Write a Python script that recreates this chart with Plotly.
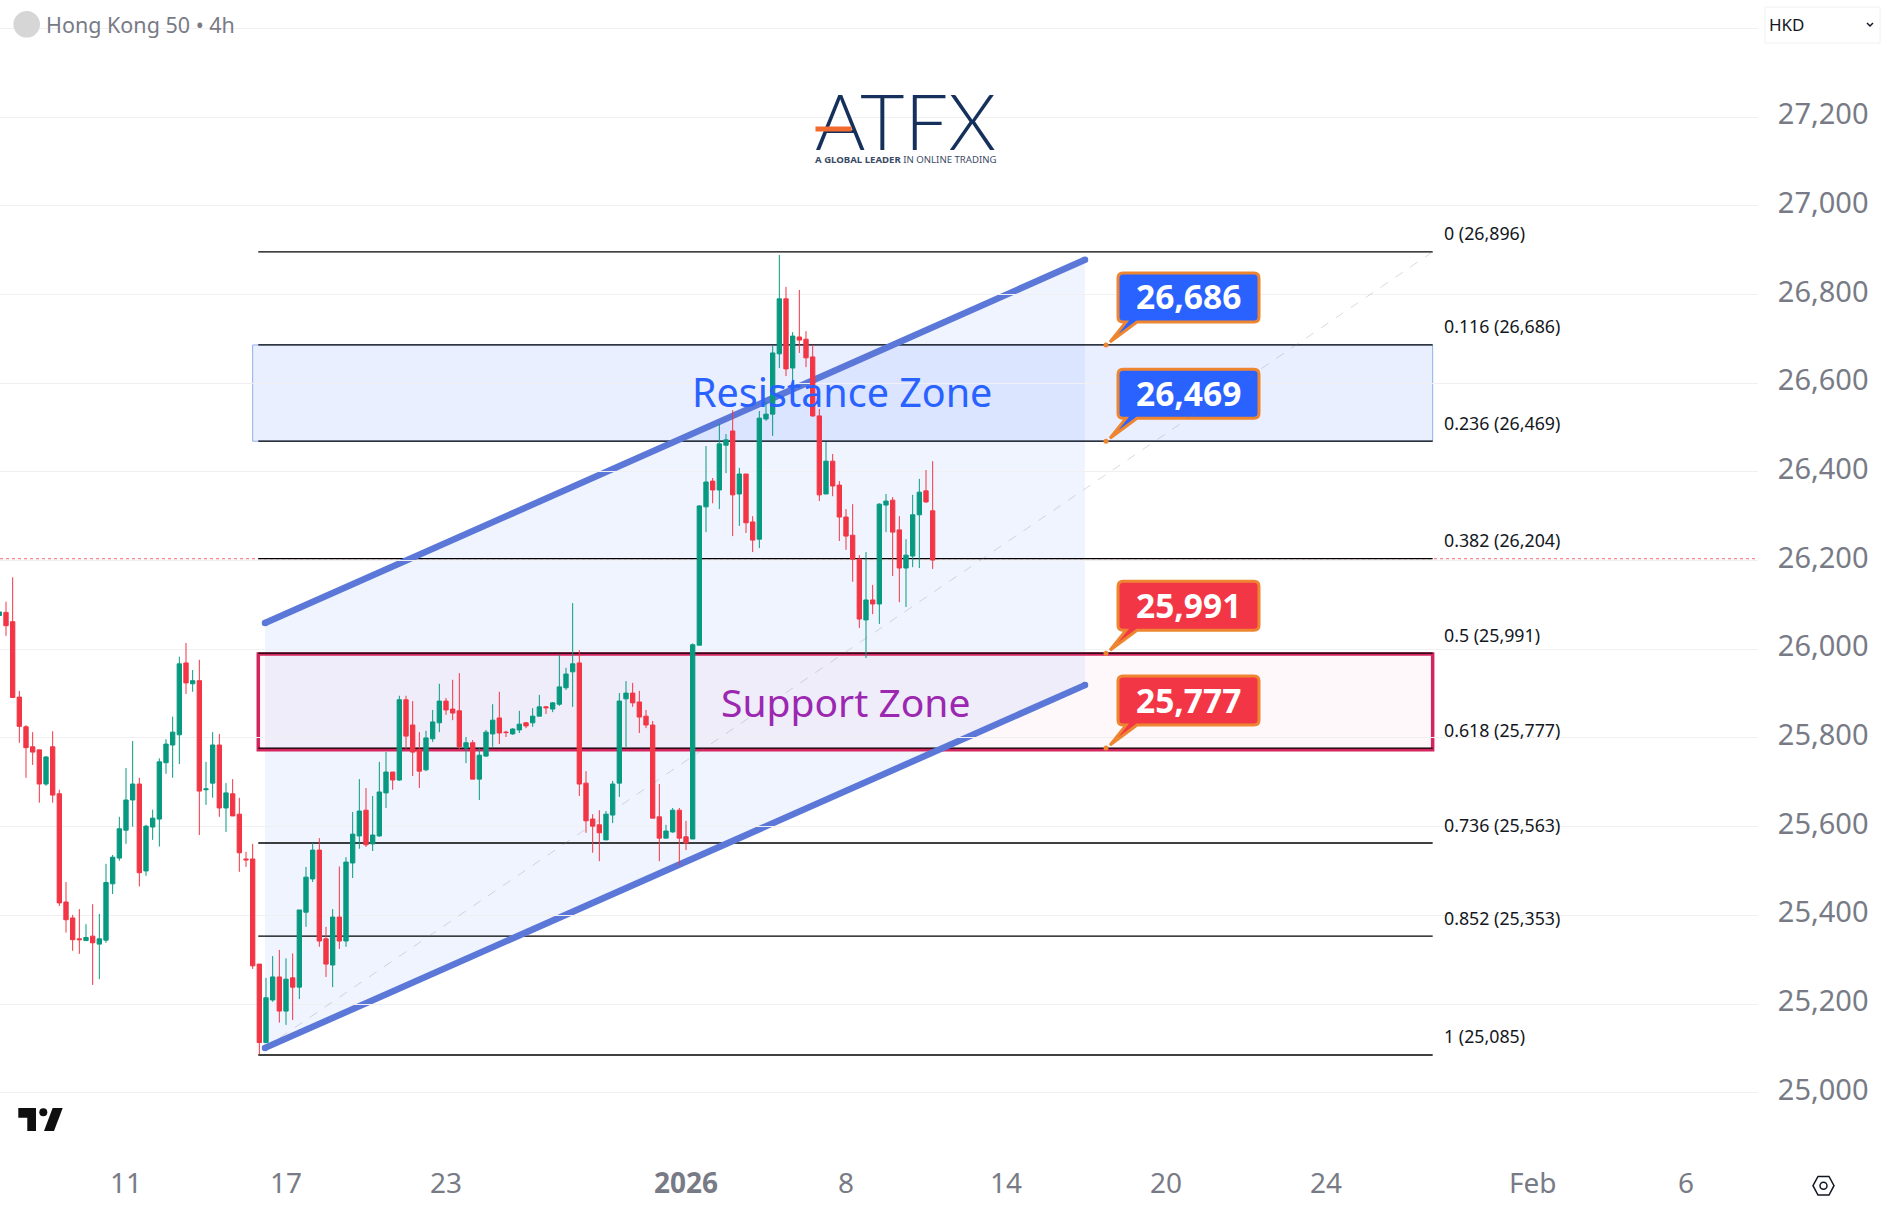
# Hong Kong 50 4h chart with fib levels, channel and zones

import plotly.graph_objects as go

# bar index, one bar every 4h, weekends skipped
bars = list(range(-1, 140))

opens = [26076, 26083, 26062, 25892, 25825, 25780, 25773, 25696, 25780, 25674, 25430, 25394, 25347, 25343, 25353, 25335,
         25344, 25471, 25529, 25592, 25660, 25696, 25500, 25599, 25617, 25744, 25784, 25807, 25969, 25922, 25929, 25683,
         25698, 25784, 25642, 25674, 25628, 25527, 25527, 25290, 25113, 25209, 25261, 25184, 25259, 25238, 25407, 25482,
         25547, 25347, 25288, 25396, 25342, 25518, 25579, 25637, 25561, 25579, 25676, 25723, 25705, 25886, 25829, 25773,
         25728, 25798, 25834, 25883, 25865, 25861, 25777, 25789, 25707, 25759, 25809, 25845, 25813, 25809, 25818, 25834,
         25834, 25849, 25870, 25865, 25876, 25913, 25949, 25969, 25698, 25617, 25604, 25570, 25626, 25698, 25888, 25901,
         25881, 25849, 25829, 25622, 25574, 25588, 25637, 25577, 25572, 26009, 26321, 26379, 26359, 26460, 26492, 26350,
         26395, 26287, 26248, 26519, 26530, 26666, 26790, 26634, 26704, 26699, 26659, 26526, 26350, 26424, 26370, 26298,
         26257, 26203, 26066, 26111, 26102, 26325, 26336, 26269, 26183, 26210, 26303, 26357, 26312]
highs = [26086, 26107, 26162, 25906, 25829, 25813, 25773, 25759, 25815, 25683, 25475, 25401, 25414, 25380, 25425, 25403,
         25516, 25536, 25622, 25732, 25793, 25710, 25604, 25638, 25754, 25797, 25848, 25983, 26014, 25953, 25976, 25746,
         25813, 25809, 25698, 25707, 25665, 25543, 25561, 25290, 25259, 25308, 25322, 25303, 25314, 25412, 25509, 25563,
         25574, 25374, 25414, 25510, 25531, 25633, 25707, 25687, 25669, 25746, 25768, 25723, 25895, 25895, 25883, 25813,
         25816, 25863, 25922, 25890, 25931, 25946, 25802, 25795, 25779, 25818, 25876, 25904, 25816, 25822, 25861, 25836,
         25867, 25897, 25872, 25881, 25987, 25958, 26104, 25998, 25725, 25628, 25637, 25635, 25703, 25901, 25928, 25924,
         25906, 25863, 25838, 25696, 25604, 25642, 25642, 25613, 26013, 26325, 26458, 26386, 26508, 26485, 26539, 26409,
         26395, 26300, 26537, 26557, 26684, 26889, 26817, 26715, 26810, 26717, 26686, 26542, 26467, 26440, 26379, 26316,
         26327, 26212, 26219, 26145, 26329, 26350, 26343, 26300, 26248, 26348, 26384, 26404, 26424]
lows = [26074, 26030, 25891, 25789, 25710, 25739, 25654, 25692, 25654, 25421, 25361, 25320, 25313, 25343, 25243, 25256,
        25338, 25448, 25523, 25561, 25600, 25465, 25489, 25570, 25555, 25719, 25710, 25741, 25899, 25904, 25581, 25649,
        25665, 25622, 25588, 25624, 25498, 25509, 25279, 25086, 25113, 25205, 25158, 25153, 25164, 25211, 25374, 25475,
        25329, 25261, 25238, 25324, 25329, 25484, 25550, 25554, 25545, 25577, 25642, 25683, 25703, 25775, 25714, 25687,
        25725, 25791, 25813, 25852, 25840, 25775, 25743, 25707, 25660, 25757, 25780, 25786, 25802, 25807, 25811, 25822,
        25825, 25849, 25854, 25858, 25872, 25908, 25870, 25669, 25586, 25541, 25522, 25570, 25608, 25667, 25779, 25870,
        25811, 25822, 25619, 25522, 25574, 25586, 25513, 25547, 25572, 26009, 26264, 26329, 26316, 26397, 26255, 26278,
        26262, 26219, 26228, 26515, 26481, 26634, 26616, 26605, 26668, 26636, 26524, 26334, 26350, 26345, 26244, 26224,
        26152, 26048, 25980, 26079, 26057, 26264, 26165, 26106, 26095, 26185, 26183, 26330, 26181]
closes = [26084, 26053, 25891, 25826, 25778, 25768, 25696, 25757, 25671, 25428, 25390, 25345, 25345, 25350, 25338, 25347,
          25474, 25531, 25595, 25660, 25696, 25496, 25601, 25619, 25746, 25786, 25813, 25967, 25924, 25929, 25680, 25685,
          25784, 25642, 25676, 25624, 25541, 25525, 25286, 25113, 25214, 25261, 25184, 25256, 25238, 25412, 25486, 25547,
          25342, 25290, 25396, 25342, 25520, 25583, 25635, 25559, 25581, 25678, 25723, 25705, 25886, 25804, 25768, 25725,
          25800, 25836, 25883, 25863, 25856, 25780, 25789, 25707, 25761, 25813, 25840, 25811, 25812, 25820, 25831, 25827,
          25849, 25870, 25868, 25879, 25915, 25944, 25967, 25696, 25613, 25601, 25586, 25628, 25696, 25883, 25901, 25879,
          25847, 25829, 25619, 25574, 25590, 25637, 25574, 25563, 26010, 26323, 26377, 26359, 26463, 26472, 26348, 26395,
          26285, 26246, 26521, 26530, 26668, 26790, 26632, 26706, 26697, 26657, 26526, 26348, 26424, 26368, 26298, 26255,
          26203, 26068, 26111, 26102, 26327, 26334, 26264, 26183, 26212, 26303, 26354, 26332, 26201]

# axis ticks
x_tick_bars = [18, 42, 66, 102, 126, 150, 174, 198, 229, 252]
x_tick_labels = ["11", "17", "23", "<b>2026</b>", "8", "14", "20", "24", "Feb", "6"]
y_ticks = [25000, 25200, 25400, 25600, 25800, 26000, 26200, 26400, 26600, 26800, 27000, 27200, 27400]
y_tick_labels = ["25,000", "25,200", "25,400", "25,600", "25,800", "26,000", "26,200", "26,400", "26,600", "26,800",
                 "27,000", "27,200", ""]

# fib levels
fib_ratios = ["0", "0.116", "0.236", "0.382", "0.5", "0.618", "0.736", "0.852", "1"]
fib_prices = [26896, 26686, 26469, 26204, 25991, 25777, 25563, 25353, 25085]
fib_left, fib_right = 37.84, 214.0

# channel drawn on the chart
channel_x = [38.85, 161.85]
channel_upper = [26059, 26878]
channel_lower = [25101, 25919]
fib_trend_x = [38.85, 214.0]
fib_trend_y = [25101, 26896]

last_price = 26204
resistance_zone = [26469, 26686]
support_zone = [25773, 25989]
callout_prices = [26686, 26469, 25991, 25777]
callout_colors = ["#2962FF", "#2962FF", "#F23645", "#F23645"]

# plot area in page pixels
PW, PH = 1758, 1148
Y_TOP, Y_BOT = 27463.8, 24875.3
X_LEFT, X_RIGHT = -0.9, 262.8
GREEN, RED = "#089981", "#F23645"
GREY = "#787B86"
FONT = "Noto Sans"
ORANGE = "#EE8530"
CHANNEL = "#5B78D8"


def px(x):
    return x / PW


def py(y):
    return 1 - y / PH


def price_y(p):
    return (Y_TOP - p) / (Y_TOP - Y_BOT) * PH


def bar_x(i):
    return (i - X_LEFT) / (X_RIGHT - X_LEFT) * PW


def label(text, x, y, size, color, anchor="left", family=FONT, weight="normal", **kw):
    return dict(text=text, x=px(x), y=py(y), xref="paper", yref="paper", showarrow=False, xanchor=anchor,
                yanchor="middle", font=dict(family=family, size=size, color=color, weight=weight), **kw)


def callout_path(y):
    x0, x1, top, bot, r = 1118, 1259, y - 72, y - 23, 5
    pts = f"M{px(x0 + r)},{py(top)} L{px(x1 - r)},{py(top)} Q{px(x1)},{py(top)} {px(x1)},{py(top + r)} "
    pts += f"L{px(x1)},{py(bot - r)} Q{px(x1)},{py(bot)} {px(x1 - r)},{py(bot)} "
    pts += f"L{px(1137)},{py(bot)} L{px(1110)},{py(y - 3)} L{px(1126)},{py(bot)} "
    pts += f"L{px(x0 + r)},{py(bot)} Q{px(x0)},{py(bot)} {px(x0)},{py(bot - r)} "
    pts += f"L{px(x0)},{py(top + r)} Q{px(x0)},{py(top)} {px(x0 + r)},{py(top)} Z"
    return pts


fig = go.Figure(go.Candlestick(
    x=bars, open=opens, high=highs, low=lows, close=closes,
    increasing=dict(line=dict(color=GREEN, width=1), fillcolor=GREEN),
    decreasing=dict(line=dict(color=RED, width=1), fillcolor=RED),
    whiskerwidth=0, hoverinfo="skip",
))

shapes = []
# channel fill
shapes.append(dict(type="path", layer="below", line=dict(width=0), fillcolor="rgba(41,98,255,0.07)",
                   path=f"M{channel_x[0]},{channel_upper[0]} L{channel_x[1]},{channel_upper[1]} "
                        f"L{channel_x[1]},{channel_lower[1]} L{channel_x[0]},{channel_lower[0]} Z"))
# zones
shapes.append(dict(type="rect", layer="below", x0=37.0, x1=fib_right, y0=resistance_zone[0], y1=resistance_zone[1],
                   fillcolor="rgba(41,98,255,0.10)", line=dict(color="#8FB0EE", width=1)))
shapes.append(dict(type="rect", layer="below", x0=fib_left, x1=fib_right, y0=support_zone[0], y1=support_zone[1],
                   fillcolor="rgba(233,30,99,0.03)", line=dict(color="#D3265F", width=3.5)))
# last price
shapes.append(dict(type="line", layer="below", x0=X_LEFT, x1=X_RIGHT, y0=last_price, y1=last_price,
                   line=dict(color="rgba(242,54,69,0.75)", width=1, dash="dot")))
# fib levels
for p in fib_prices:
    shapes.append(dict(type="line", layer="below", x0=fib_left, x1=fib_right, y0=p, y1=p,
                       line=dict(color="#000000", width=1.3)))
# channel lines with round ends
for ys in (channel_upper, channel_lower):
    shapes.append(dict(type="line", layer="below", x0=channel_x[0], x1=channel_x[1], y0=ys[0], y1=ys[1],
                       line=dict(color=CHANNEL, width=6.5)))
    for cx, cy in zip(channel_x, ys):
        shapes.append(dict(type="circle", layer="below", xref="paper", yref="paper", x0=px(bar_x(cx) - 3.25),
                           x1=px(bar_x(cx) + 3.25), y0=py(price_y(cy) - 3.25), y1=py(price_y(cy) + 3.25),
                           fillcolor=CHANNEL, line=dict(width=0)))
# callouts
for p, c in zip(callout_prices, callout_colors):
    y = price_y(p)
    shapes.append(dict(type="path", xref="paper", yref="paper", layer="above", path=callout_path(y), fillcolor=c,
                       line=dict(color=ORANGE, width=3)))
    shapes.append(dict(type="circle", xref="paper", yref="paper", layer="above", x0=px(1103.5), x1=px(1108.5),
                       y0=py(y - 2.5), y1=py(y + 2.5), fillcolor=ORANGE, line=dict(width=0)))
# fib trend line
shapes.append(dict(type="line", layer="above", x0=fib_trend_x[0], x1=fib_trend_x[1], y0=fib_trend_y[0],
                   y1=fib_trend_y[1], line=dict(color="rgba(120,123,134,0.28)", width=1, dash="dash")))
# tradingview mark
shapes.append(dict(type="path", xref="paper", yref="paper", fillcolor="#0F0F0F", line=dict(width=0),
                   path=f"M{px(18.3)},{py(1108)} L{px(36)},{py(1108)} L{px(36)},{py(1131)} L{px(27.3)},{py(1131)} "
                        f"L{px(27.3)},{py(1117.7)} L{px(18.3)},{py(1117.7)} Z"))
shapes.append(dict(type="path", xref="paper", yref="paper", fillcolor="#0F0F0F", line=dict(width=0),
                   path=f"M{px(52.6)},{py(1108)} L{px(62.7)},{py(1108)} L{px(54)},{py(1131)} L{px(44)},{py(1131)} Z"))
shapes.append(dict(type="circle", xref="paper", yref="paper", x0=px(39.3), x1=px(47.3), y0=py(1108.3), y1=py(1116.3),
                   fillcolor="#0F0F0F", line=dict(width=0)))
# symbol dot
shapes.append(dict(type="circle", xref="paper", yref="paper", x0=px(13.4), x1=px(40), y0=py(11), y1=py(37.6),
                   fillcolor="#D6D6D6", line=dict(width=0)))
# currency box
shapes.append(dict(type="rect", xref="paper", yref="paper", x0=px(1765), x1=px(1880), y0=py(7), y1=py(43),
                   fillcolor="#FFFFFF", line=dict(color="#F0F0F0", width=1)))
shapes.append(dict(type="path", xref="paper", yref="paper", line=dict(color="#131722", width=1.5),
                   path=f"M{px(1867)},{py(23)} L{px(1870)},{py(26)} L{px(1873)},{py(23)}"))
# scale settings icon
shapes.append(dict(type="path", xref="paper", yref="paper", line=dict(color="#131722", width=1.5),
                   path=f"M{px(1813)},{py(1185.7)} L{px(1818)},{py(1176.5)} L{px(1829)},{py(1176.5)} "
                        f"L{px(1834)},{py(1185.7)} L{px(1829)},{py(1195)} L{px(1818)},{py(1195)} Z"))
shapes.append(dict(type="circle", xref="paper", yref="paper", x0=px(1820), x1=px(1827), y0=py(1182.2), y1=py(1189.2),
                   line=dict(color="#131722", width=1.5)))

annotations = [
    label("Hong Kong 50 • 4h", 44, 24, 21.5, GREY),
    label("HKD", 1767, 24, 17, "#131722"),
    label("Resistance Zone", 842, 392, 39.5, "#2962FF", "center"),
    label("Support Zone", 845.5, 701, 39, "#9C27B0", "center"),
    label("ATFX", 905, 120, 77, "#16305C", "center", family="Lato", weight=300),
    label(" ", 833, 128.5, 1, "#F26A2E", "center", width=35, height=4, bgcolor="#F26A2E", borderpad=0),
    label("<b>A GLOBAL LEADER</b> IN ONLINE TRADING", 905, 159, 9.6, "#3A4A66", "center"),
]
for ratio, p in zip(fib_ratios, fib_prices):
    annotations.append(label(f"{ratio} ({p:,})", 1442, price_y(p) - 18.5, 17.8, "#131722"))
for p in callout_prices:
    annotations.append(label(f"<b>{p:,}</b>", 1188.5, price_y(p) - 48.5, 33.5, "#FFFFFF", "center"))

fig.update_layout(
    width=1887, height=1212,
    margin=dict(l=0, r=1887 - PW, t=0, b=1212 - PH),
    paper_bgcolor="#FFFFFF", plot_bgcolor="#FFFFFF",
    font=dict(family=FONT),
    showlegend=False,
    boxgap=0.35, boxgroupgap=0.0,
    shapes=shapes,
    annotations=annotations,
    xaxis=dict(range=[X_LEFT, X_RIGHT], rangeslider_visible=False, showgrid=False, zeroline=False, showline=False,
               tickmode="array", tickvals=x_tick_bars, ticktext=x_tick_labels, ticks="outside", ticklen=10,
               tickcolor="#FFFFFF", tickangle=0, tickfont=dict(size=28, color=GREY, family=FONT)),
    yaxis=dict(range=[Y_BOT, Y_TOP], side="right", gridcolor="#F0F0F3", gridwidth=1, zeroline=False, showline=False,
               tickmode="array", tickvals=y_ticks, ticktext=y_tick_labels, ticks="outside", ticklen=13,
               ticklabelshift=-3, tickcolor="#FFFFFF", tickfont=dict(size=29, color=GREY, family=FONT)),
)

# page margin off so the plot sits at the window corner
fig.write_html("out.html", config={"displayModeBar": False}, post_script="document.body.style.margin='0';")
